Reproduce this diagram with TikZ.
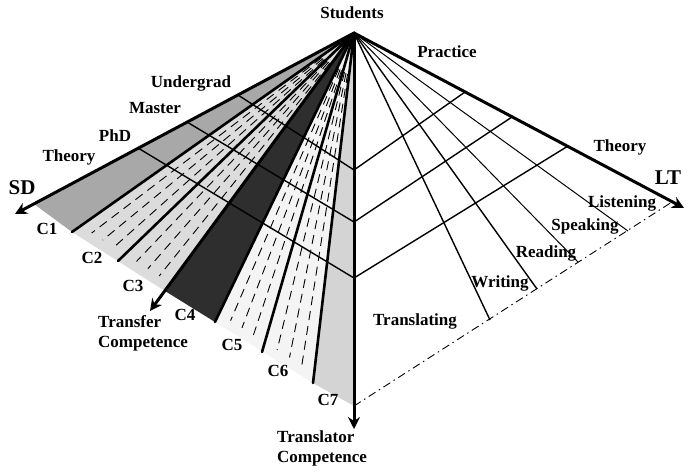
\documentclass[tikz,border=0pt]{standalone}
\usepackage{fontspec}
\setmainfont{Liberation Serif}
\usepackage{tikz}
\usetikzlibrary{calc,arrows.meta}
\definecolor{ink}{HTML}{000000}
\definecolor{bandA}{HTML}{A8A8A8}
\definecolor{bandB}{HTML}{DCDCDC}
\definecolor{bandC}{HTML}{2E2E2E}
\definecolor{bandD}{HTML}{F4F4F4}
\definecolor{bandE}{HTML}{D4D4D4}
\tikzset{
  axis/.style={draw=ink, line width=3pt, line cap=round, -{Stealth[length=12pt,width=12pt,inset=4pt]}},
  bound/.style={draw=ink, line width=2.6pt, line cap=round},
  rung/.style={draw=ink, line width=1.4pt},
  spoke/.style={draw=ink, line width=1.4pt},
  thin/.style={draw=ink, line width=1pt},
  hatch/.style={draw=ink, line width=0.9pt, dash pattern=on 9pt off 6pt},
  rim/.style={draw=ink, line width=0.9pt, dash pattern=on 8pt off 4pt on 1.5pt off 4pt},
  lab/.style={text=ink, font=\fontsize{17}{20}\selectfont\bfseries, inner sep=0pt},
  labb/.style={text=ink, font=\fontsize{21}{24}\selectfont\bfseries, inner sep=0pt},
}

\begin{document}
\begin{tikzpicture}[x=1pt,y=-1pt]
  \useasboundingbox (0,0) rectangle (700,471);
  \coordinate (S) at (354,33);
  \coordinate (SD) at (15,214);
  \coordinate (TC) at (150,311);
  \coordinate (TR) at (354,429);
  \coordinate (LT) at (684,208);
  % foot of the left fan
  \coordinate (b0) at (34,204);
  \coordinate (b1) at (72,232);
  \coordinate (b2) at (118,261);
  \coordinate (b3) at (165,291);
  \coordinate (b4) at (215,322);
  \coordinate (b5) at (262,352);
  \coordinate (b6) at (313,383);
  \coordinate (b7) at (354,406);
  % rungs
  \coordinate (g1) at (238,95);
  \coordinate (g2) at (187,122);
  \coordinate (g3) at (138,148);
  \coordinate (m1) at (354,170);
  \coordinate (m2) at (354,222);
  \coordinate (m3) at (354,278);
  \coordinate (r1) at (465,92);
  \coordinate (r2) at (512,117);
  \coordinate (r3) at (568,146);
  % right spokes
  \coordinate (wr) at (490,320);
  \coordinate (rd) at (537,289);
  \coordinate (sp) at (578,262);
  \coordinate (ls) at (628,231);
  \coordinate (e) at (672,202);
  \fill[bandA] (S)--(b0)--(b1)--cycle;
  \fill[bandB] (S)--(b1)--(b3)--cycle;
  \fill[bandC] (S)--(b3)--(b4)--cycle;
  \fill[bandD] (S)--(b4)--(b6)--cycle;
  \fill[bandE] (S)--(b6)--(b7)--cycle;
  \foreach \a/\b in {b1/b2,b2/b3,b4/b5,b5/b6}{
    \foreach \f in {.25,.5,.75}{
      \coordinate (h) at ($(\a)!\f!(\b)$);
      \draw[hatch] ($(S)!.12!(h)$) -- ($(S)!.97!(h)$);
    }
  }
  \draw[rung] (g1)--(m1)--(r1);
  \draw[rung] (g2)--(m2)--(r2);
  \draw[rung] (g3)--(m3)--(r3);
  \draw[bound] (S)--(b1);
  \draw[bound] (S)--(b2);
  \draw[bound] (S)--(b4);
  \draw[bound] (S)--(b5);
  \draw[bound] (S)--(b6);
  \draw[spoke] (S)--(wr);
  \draw[spoke] (S)--(rd);
  \draw[thin] (S)--(sp);
  \draw[thin] (S)--(ls);
  \draw[rim] (b7)--(e);
  \draw[axis] (S)--(SD);
  \draw[axis] (S)--(TC);
  \draw[axis] (S)--(TR);
  \draw[axis] (S)--(LT);
  % labels
  \node[lab] (students) at (352,13) {Students};
  \node[lab] (practice) at (447,52) {Practice};
  \node[lab] (theoryR) at (620,147) {Theory};
  \node[labb] (lt) at (668,178) {LT};
  \node[labb] (sd) at (22,188) {SD};
  \node[lab] (theoryL) at (69,157) {Theory};
  \node[lab] (phd) at (115,136) {PhD};
  \node[lab] (master) at (155,108) {Master};
  \node[lab] (under) at (191,83) {Undergrad};
  \node[lab] (listen) at (622,203) {Listening};
  \node[lab] (speak) at (585,226) {Speaking};
  \node[lab] (read) at (546,253) {Reading};
  \node[lab] (write) at (500,283) {Writing};
  \node[lab] (transl) at (415,321) {Translating};
  \node[lab] (c1) at (47,229) {C1};
  \node[lab] (c2) at (92,258) {C2};
  \node[lab] (c3) at (133,286) {C3};
  \node[lab] (c4) at (185,315) {C4};
  \node[lab] (c5) at (232,345) {C5};
  \node[lab] (c6) at (278,371) {C6};
  \node[lab] (c7) at (328,400) {C7};
  \node[lab,align=left,anchor=west] (transfer) at (98,333) {Transfer\\Competence};
  \node[lab,align=left,anchor=west] (translator) at (277,448) {Translator\\Competence};
\end{tikzpicture}
\end{document}
